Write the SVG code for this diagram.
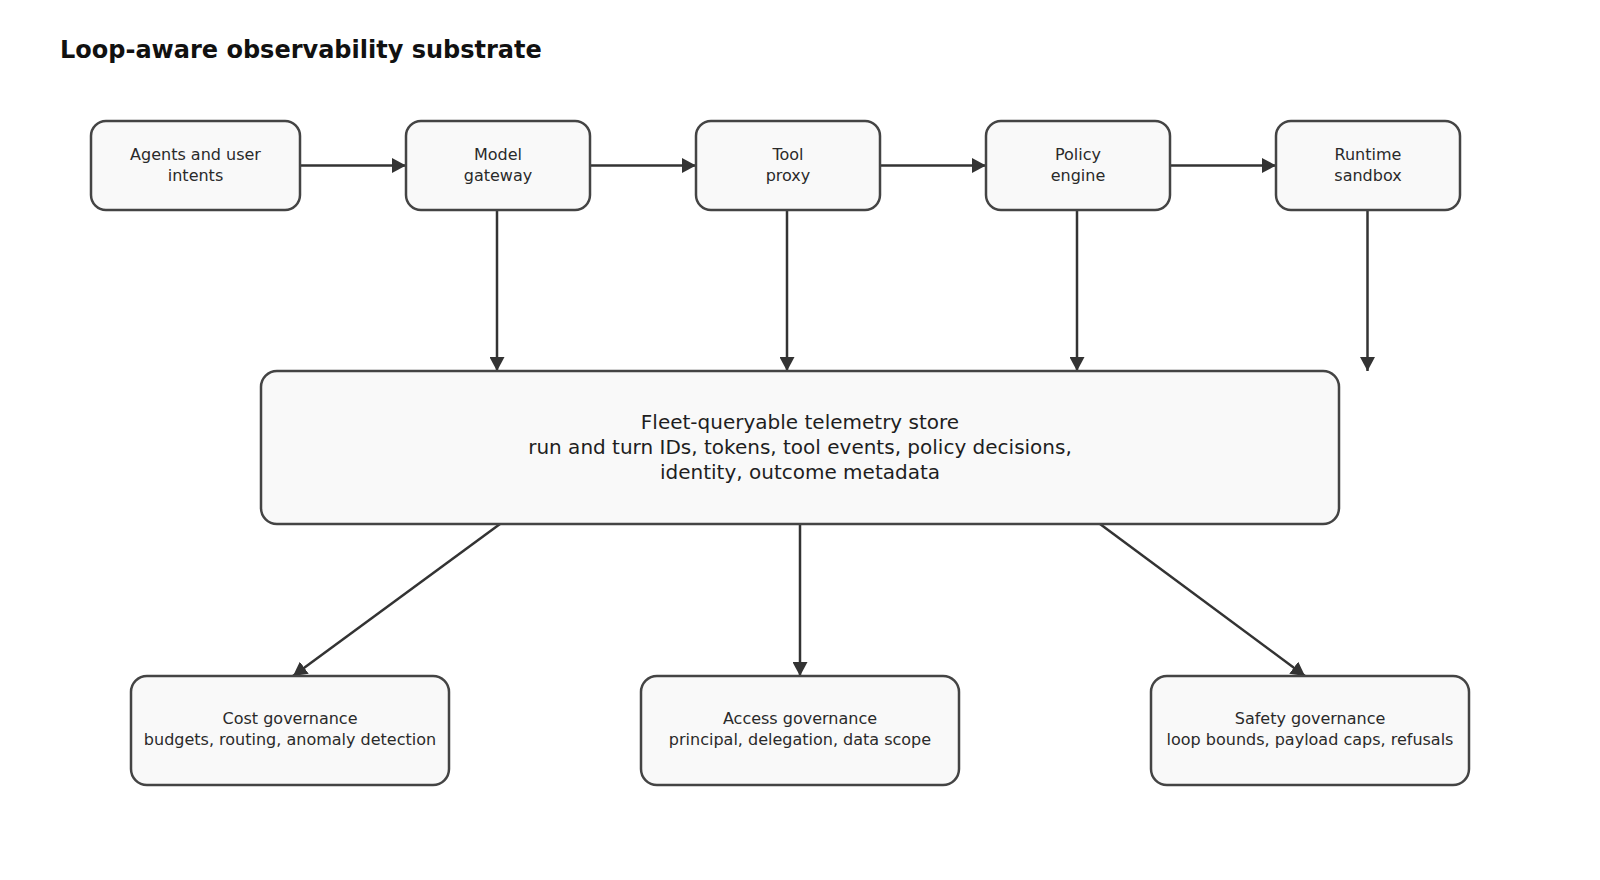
<svg xmlns="http://www.w3.org/2000/svg" width="1600" height="880" viewBox="0 0 1600 880">
  <style>
    .title { font-family: "DejaVu Sans", "Liberation Sans", sans-serif; font-size: 24px; font-weight: bold; fill: #111111; }
    .box { fill: #f9f9f9; stroke: #444444; stroke-width: 2.5; }
    .lbl { font-family: "DejaVu Sans", "Liberation Sans", sans-serif; font-size: 16px; fill: #2a2a2a; text-anchor: middle; }
    .lbl-lg { font-family: "DejaVu Sans", "Liberation Sans", sans-serif; font-size: 20px; fill: #1e1e1e; text-anchor: middle; }
    .edge { fill: none; stroke: #333333; stroke-width: 2.5; }
  </style>
  <defs>
    <marker id="arrow" markerUnits="userSpaceOnUse" markerWidth="14" markerHeight="15" refX="14" refY="7.5" orient="auto">
      <path d="M0,0 L14,7.5 L0,15 Z" fill="#333333"/>
    </marker>
  </defs>
  <rect width="1600" height="880" fill="#ffffff"/>
  <text class="title" x="60" y="58">Loop-aware observability substrate</text>

  <g id="connectors">
    <line class="edge" x1="300" y1="165.5" x2="406" y2="165.5" marker-end="url(#arrow)"/>
    <line class="edge" x1="590" y1="165.5" x2="696" y2="165.5" marker-end="url(#arrow)"/>
    <line class="edge" x1="880" y1="165.5" x2="986" y2="165.5" marker-end="url(#arrow)"/>
    <line class="edge" x1="1170" y1="165.5" x2="1276" y2="165.5" marker-end="url(#arrow)"/>
    <line class="edge" x1="497" y1="210" x2="497" y2="371" marker-end="url(#arrow)"/>
    <line class="edge" x1="787" y1="210" x2="787" y2="371" marker-end="url(#arrow)"/>
    <line class="edge" x1="1077" y1="210" x2="1077" y2="371" marker-end="url(#arrow)"/>
    <line class="edge" x1="1367.5" y1="210" x2="1367.5" y2="371" marker-end="url(#arrow)"/>
    <line class="edge" x1="500" y1="524" x2="293" y2="676" marker-end="url(#arrow)"/>
    <line class="edge" x1="800" y1="524" x2="800" y2="676" marker-end="url(#arrow)"/>
    <line class="edge" x1="1100" y1="524" x2="1305" y2="676" marker-end="url(#arrow)"/>
  </g>

  <g id="agents">
    <rect class="box" x="91" y="121" width="209" height="89" rx="15"/>
    <text class="lbl" x="195.5" y="159.5">Agents and user</text>
    <text class="lbl" x="195.5" y="180.5">intents</text>
  </g>
  <g id="model-gateway">
    <rect class="box" x="406" y="121" width="184" height="89" rx="15"/>
    <text class="lbl" x="498" y="159.5">Model</text>
    <text class="lbl" x="498" y="180.5">gateway</text>
  </g>
  <g id="tool-proxy">
    <rect class="box" x="696" y="121" width="184" height="89" rx="15"/>
    <text class="lbl" x="788" y="159.5">Tool</text>
    <text class="lbl" x="788" y="180.5">proxy</text>
  </g>
  <g id="policy-engine">
    <rect class="box" x="986" y="121" width="184" height="89" rx="15"/>
    <text class="lbl" x="1078" y="159.5">Policy</text>
    <text class="lbl" x="1078" y="180.5">engine</text>
  </g>
  <g id="runtime-sandbox">
    <rect class="box" x="1276" y="121" width="184" height="89" rx="15"/>
    <text class="lbl" x="1368" y="159.5">Runtime</text>
    <text class="lbl" x="1368" y="180.5">sandbox</text>
  </g>

  <g id="telemetry-store">
    <rect class="box" x="261" y="371" width="1078" height="153" rx="16"/>
    <text class="lbl-lg" x="800" y="429">Fleet-queryable telemetry store</text>
    <text class="lbl-lg" x="800" y="454">run and turn IDs, tokens, tool events, policy decisions,</text>
    <text class="lbl-lg" x="800" y="479">identity, outcome metadata</text>
  </g>

  <g id="cost-governance">
    <rect class="box" x="131" y="676" width="318" height="109" rx="16"/>
    <text class="lbl" x="290" y="724">Cost governance</text>
    <text class="lbl" x="290" y="745">budgets, routing, anomaly detection</text>
  </g>
  <g id="access-governance">
    <rect class="box" x="641" y="676" width="318" height="109" rx="16"/>
    <text class="lbl" x="800" y="724">Access governance</text>
    <text class="lbl" x="800" y="745">principal, delegation, data scope</text>
  </g>
  <g id="safety-governance">
    <rect class="box" x="1151" y="676" width="318" height="109" rx="16"/>
    <text class="lbl" x="1310" y="724">Safety governance</text>
    <text class="lbl" x="1310" y="745">loop bounds, payload caps, refusals</text>
  </g>
</svg>
